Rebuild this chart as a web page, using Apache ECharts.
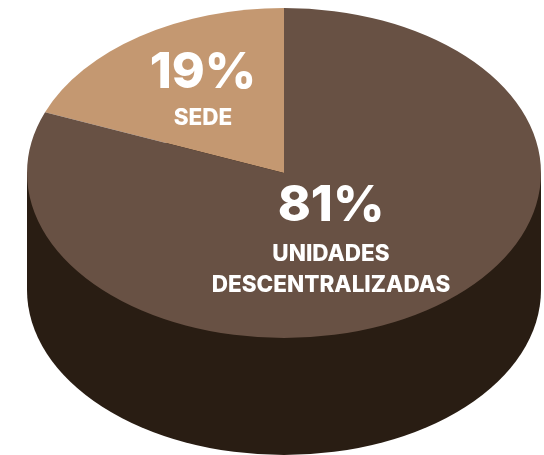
<!DOCTYPE html>
<html>
<head>
<meta charset="utf-8">
<style>
  html, body { margin: 0; padding: 0; background: #fff; }
  #main { width: 544px; height: 455px; }
</style>
<script src="https://cdn.jsdelivr.net/npm/echarts@6/dist/echarts.min.js"></script>
</head>
<body>
<div id="main"></div>
<script>
const categories = ['SEDE', 'UNIDADES', 'DESCENTRALIZADAS'];
const percents = [19, 81];
const sliceColors = ['#c49871', '#685144'];
const sideColor = '#291d13';

// tilted disc: the sector is drawn as a circle and squashed in y
const cx = 284, cy = 173, rx = 257, ry = 165, depth = 117;
const fontName = 'Inter';

const total = percents.reduce((a, b) => a + b, 0);
const toAngle = (p) => -Math.PI / 2 - (p / total) * Math.PI * 2;

function renderSide(params, api) {
  return {
    type: 'group',
    children: [
      { type: 'sector', x: cx, y: cy + depth, scaleY: ry / rx, silent: true,
        shape: { cx: 0, cy: 0, r: rx, r0: 0, startAngle: 0, endAngle: Math.PI * 2 },
        style: { fill: sideColor } },
      { type: 'rect', silent: true,
        shape: { x: cx - rx, y: cy, width: rx * 2, height: depth },
        style: { fill: sideColor } }
    ]
  };
}

let acc = 0;
const starts = percents.map((p) => { const s = acc; acc += p; return s; });

function renderSlice(params, api) {
  const i = params.dataIndex;
  const from = api.value(1), val = api.value(0);
  // counter clockwise from 12 o'clock
  return {
    type: 'sector',
    x: cx, y: cy, scaleY: ry / rx,
    shape: {
      cx: 0, cy: 0, r: rx, r0: 0,
      startAngle: toAngle(from + val),
      endAngle: toAngle(from)
    },
    style: { fill: sliceColors[i] }
  };
}

function label(text, x, y, font) {
  return {
    type: 'text', z: 10, x: x, y: y, silent: true,
    style: { text: text, fill: '#fff', font: font, align: 'center', verticalAlign: 'middle' }
  };
}

var myChart = echarts.init(document.getElementById('main'), null, { renderer: 'canvas' });
var option = {
  animation: false,
  backgroundColor: '#ffffff',
  series: [
    {
      type: 'custom',
      coordinateSystem: 'none',
      renderItem: renderSide,
      data: [0],
      silent: true
    },
    {
      type: 'custom',
      coordinateSystem: 'none',
      renderItem: renderSlice,
      data: percents.map((p, i) => [p, starts[i]]),
      silent: true
    }
  ],
  graphic: [
    label(percents[0] + '%', 203, 73, '800 50px ' + fontName),
    label(categories[0], 203, 118, '800 22.5px ' + fontName),
    label(percents[1] + '%', 331, 206, '800 50px ' + fontName),
    label(categories[1], 331, 254, '800 22.5px ' + fontName),
    label(categories[2], 331, 285, '800 22.5px ' + fontName)
  ]
};
option && myChart.setOption(option);
</script>
</body>
</html>
